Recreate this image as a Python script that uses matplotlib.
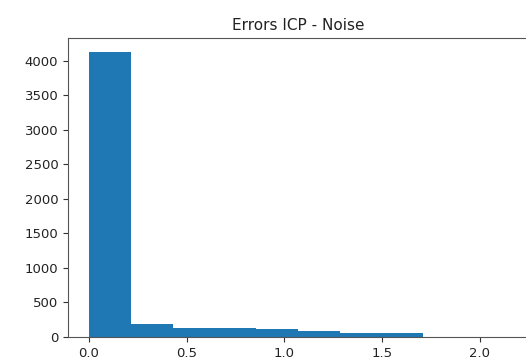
import matplotlib
matplotlib.use("Agg")
import matplotlib.pyplot as plt
import numpy as np

# histogram of ICP errors with noise (10 bins)
bin_edges = np.linspace(0.0, 2.14, 11)
counts = [4124, 183, 135, 135, 121, 84, 63, 63, 6, 4]

fig = plt.figure(figsize=(5.26, 3.6), dpi=100)
ax = fig.add_axes([68 / 526, 23 / 360, 460 / 526, 299 / 360])

centers = (bin_edges[:-1] + bin_edges[1:]) / 2
ax.hist(centers, bins=bin_edges, weights=counts, color="#1f77b4")

ax.set_title("Errors ICP - Noise", fontsize=11, color="#222222")
ax.set_xticks([0.0, 0.5, 1.0, 1.5, 2.0])
ax.set_yticks(np.arange(0, 4001, 500))
ax.tick_params(labelsize=9.5, labelcolor="#222222", color="#333333")
for s in ax.spines.values():
    s.set_color("#555555")

fig.savefig("out.png", dpi=100)
